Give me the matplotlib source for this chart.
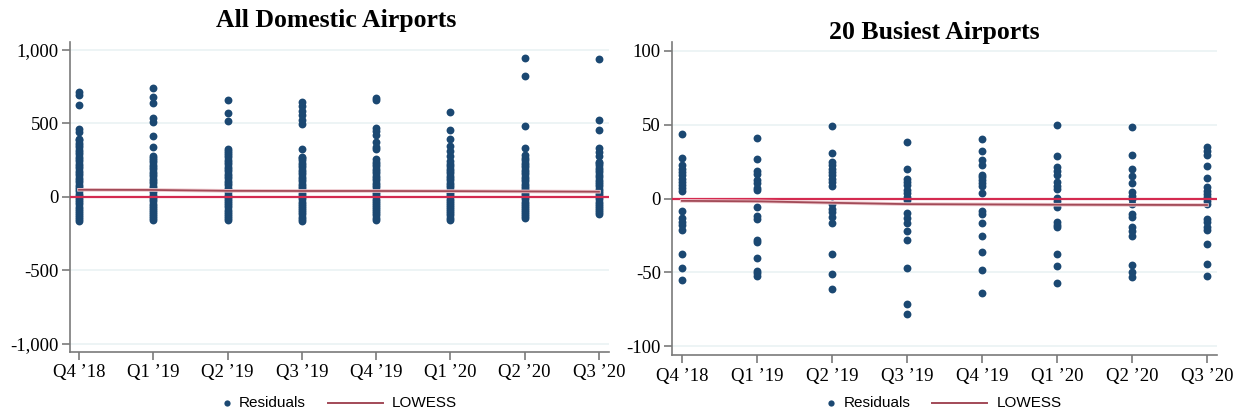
import matplotlib
matplotlib.use("Agg")
import matplotlib.pyplot as plt
import matplotlib.patheffects as pe
from matplotlib.lines import Line2D
from matplotlib.ticker import FuncFormatter

plt.rcParams['font.family'] = ['Liberation Serif', 'DejaVu Serif']

quarters = ["Q4 \u201918", "Q1 \u201919", "Q2 \u201919", "Q3 \u201919",
            "Q4 \u201919", "Q1 \u201920", "Q2 \u201920", "Q3 \u201920"]

# residuals, all domestic airports (one list per quarter)
all_q4_18 = [-164, -150, -138, -125, -110, -96, -80, -66, -50, -35, -20, -6, 8, 22, 38, 52,
             68, 84, 100, 115, 130, 146, 162, 178, 194, 210, 226, 242, 258, 274, 290, 306,
             322, 338, 354, 370, 386, 394, 443, 459, 627, 692, 715]
all_q1_19 = [-160, -146, -132, -118, -104, -90, -75, -60, -46, -30, -15, 0, 14, 30, 45, 60,
             76, 92, 108, 124, 140, 156, 172, 188, 204, 220, 236, 252, 268, 281, 337, 416,
             507, 536, 640, 681, 740]
all_q2_19 = [-160, -146, -131, -116, -102, -88, -72, -58, -44, -28, -14, 2, 16, 32, 48, 62,
             78, 94, 110, 126, 142, 158, 174, 190, 206, 222, 238, 254, 270, 286, 300, 312,
             326, 514, 570, 658]
all_q3_19 = [-162, -148, -134, -120, -106, -92, -76, -62, -48, -32, -18, -2, 12, 28, 44, 58,
             74, 90, 106, 122, 138, 154, 170, 186, 202, 218, 234, 250, 262, 271, 328, 493,
             523, 557, 588, 618, 647]
all_q4_19 = [-155, -141, -127, -113, -99, -85, -70, -56, -42, -26, -12, 4, 18, 34, 50, 64,
             80, 96, 112, 128, 144, 160, 176, 192, 208, 224, 240, 256, 326, 339, 376, 421,
             448, 470, 660, 675]
all_q1_20 = [-155, -141, -127, -113, -99, -85, -70, -56, -42, -26, -12, 4, 18, 34, 50, 64,
             80, 96, 112, 128, 144, 160, 176, 192, 208, 221, 244, 279, 313, 347, 393, 457,
             575]
all_q2_20 = [-145, -131, -117, -103, -89, -75, -60, -46, -32, -16, -2, 14, 28, 44, 60, 74,
             90, 106, 122, 138, 154, 170, 186, 202, 218, 234, 250, 266, 285, 336, 486, 824,
             943]
all_q3_20 = [-118, -104, -90, -76, -62, -48, -33, -18, -4, 10, 26, 40, 56, 72, 86, 102,
             118, 134, 150, 166, 182, 198, 214, 228, 240, 279, 308, 331, 457, 525, 936]
all_resid = [all_q4_18, all_q1_19, all_q2_19, all_q3_19,
             all_q4_19, all_q1_20, all_q2_20, all_q3_20]
all_lowess = [48, 47, 41, 40, 40, 39, 37, 35]

# residuals, 20 busiest airports
top_q4_18 = [43.5, 27.7, 22.5, 20, 18, 16, 13.5, 11, 9, 7, 5, -8.6, -13.5, -15.8, -18,
             -21.4, -37.6, -47.3, -55.4]
top_q1_19 = [41.2, 26.8, 18.7, 16.4, 12.8, 10.6, 7.4, 5.6, -5.9, -11.9, -14.2, -28.2,
             -29.7, -40, -48.9, -50.7, -52.3]
top_q2_19 = [48.9, 30.9, 24.8, 22.5, 20.3, 18, 15.8, 13.5, 11.3, 8.3, -3.8, -6.8, -9,
             -12.8, -16.4, -37.6, -51.1, -61]
top_q3_19 = [38, 20.3, 13.5, 11.3, 9, 5.6, 3.4, 1.1, -0.7, -10, -13.5, -16.4, -22, -28,
             -47.3, -71.4, -78]
top_q4_19 = [40.1, 32.4, 26.4, 22.7, 16.2, 14.4, 12.2, 10.4, 8.8, 3.6, -8.6, -10.4,
             -16.4, -25.2, -36.5, -48.6, -64]
top_q1_20 = [49.8, 28.8, 21.2, 18.9, 16.2, 11, 8.8, 6.5, 0.5, -1.4, -3.6, -5.9, -16,
             -18.2, -19.4, -37.4, -45.7, -57.2]
top_q2_20 = [48.2, 29.7, 20, 15.5, 10.6, 4.3, 2, -0.2, -4, -10.4, -12.6, -19.4, -22,
             -25.2, -45.3, -49.8, -53.2]
top_q3_20 = [34.7, 32.4, 29.7, 22.3, 14, 7.7, 5.4, 3.2, 0.9, -1.4, -3.6, -13.7, -16,
             -19.4, -21.6, -30.6, -44.1, -52.5]
top_resid = [top_q4_18, top_q1_19, top_q2_19, top_q3_19,
             top_q4_19, top_q1_20, top_q2_20, top_q3_20]
top_lowess = [-1.6, -1.9, -2.9, -3.8, -4.0, -4.2, -4.3, -4.4]

dot_color = '#1b4872'
zero_color = '#d42a50'
lowess_color = '#a24a57'
grid_color = '#eaf2f3'
axis_color = '#7a7a7a'

W = 1235.0


def add_key(fig, ax):
    # key under the panel: dot, "Residuals", line, "LOWESS"
    pos = ax.get_position()
    cx = pos.x0 + pos.width / 2
    y = 0.025
    fig.add_artist(Line2D([cx - 113 / W], [y], marker='o', ms=4.5, color=dot_color,
                          mec='none', transform=fig.transFigure))
    fig.text(cx - 101 / W, y, "Residuals", ha='left', va='center',
             family='Liberation Sans', fontsize=11)
    fig.add_artist(Line2D([cx - 12 / W, cx + 43 / W], [y, y], color=lowess_color, lw=1.4,
                          transform=fig.transFigure))
    fig.text(cx + 52 / W, y, "LOWESS", ha='left', va='center',
             family='Liberation Sans', fontsize=11)


def draw_panel(fig, ax, resid, lowess, yticks, ylim, xlim, fmt):
    for i, vals in enumerate(resid):
        ax.scatter([i] * len(vals), vals, s=32, color=dot_color, linewidths=0,
                   zorder=3)
    ax.axhline(0, color=zero_color, lw=1.6, zorder=4)
    ax.plot(range(len(lowess)), lowess, color=lowess_color, lw=1.3, zorder=5,
            path_effects=[pe.Stroke(linewidth=2.6, foreground='#eec6cc'), pe.Normal()])
    ax.set_xlim(*xlim)
    ax.set_ylim(*ylim)
    ax.set_xticks(range(len(quarters)))
    ax.set_xticklabels(quarters)
    ax.set_yticks(yticks)
    ax.yaxis.set_major_formatter(FuncFormatter(fmt))
    ax.grid(axis='y', color=grid_color, lw=1.2, zorder=0)
    ax.set_axisbelow(True)
    for s in ['top', 'right']:
        ax.spines[s].set_visible(False)
    for s in ['left', 'bottom']:
        ax.spines[s].set_color(axis_color)
        ax.spines[s].set_linewidth(1.2)
    ax.tick_params(axis='both', colors=axis_color, length=6, width=1.2,
                   labelsize=13.5, labelcolor='black', pad=3)
    ax.tick_params(axis='y', pad=2)
    add_key(fig, ax)


fig = plt.figure(figsize=(12.35, 4.13), dpi=100)
ax1 = fig.add_axes([0.0567, 0.1477, 0.4364, 0.7506])
ax2 = fig.add_axes([0.5441, 0.1404, 0.4413, 0.7579])

draw_panel(fig, ax1, all_resid, all_lowess, [-1000, -500, 0, 500, 1000], (-1057, 1055),
           (-0.121, 7.135), lambda v, p: f"{int(v):,}")
draw_panel(fig, ax2, top_resid, top_lowess, [-100, -50, 0, 50, 100], (-106, 106),
           (-0.133, 7.133), lambda v, p: f"{int(v)}")

fig.text(0.272, 0.950, "All Domestic Airports", ha='center', va='center',
         fontsize=18.5, fontweight='bold')
fig.text(0.7565, 0.922, "20 Busiest Airports", ha='center', va='center',
         fontsize=18.5, fontweight='bold')

fig.savefig('out.png', dpi=100)
